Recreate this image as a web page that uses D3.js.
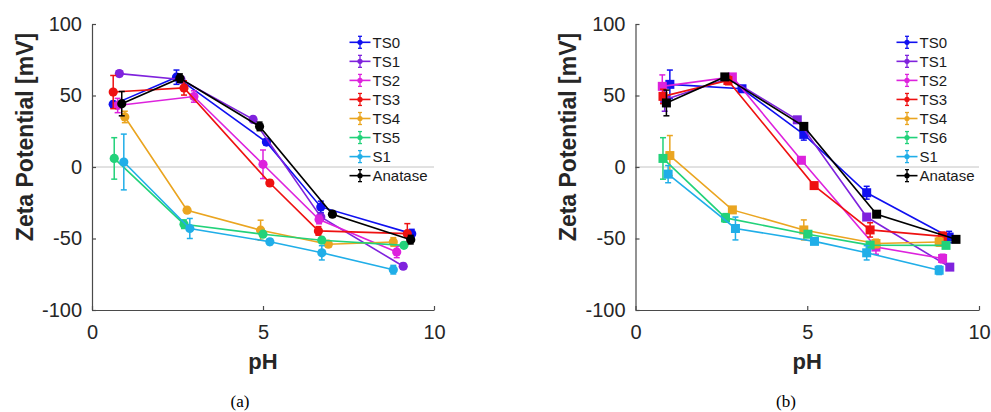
<!DOCTYPE html>
<html><head><meta charset="utf-8">
<script src="https://cdn.jsdelivr.net/npm/d3@7"></script>
<style>body{margin:0;background:#fff}svg{display:block}</style>
</head><body>
<svg id="chart" width="991" height="412"></svg>
<script>
// ---------- data ----------
const namesA = ["TS0","TS1","TS2","TS3","TS4","TS5","S1","Anatase"];
const namesB = ["TS0","TS1","TS2","TS3","TS4","TS6","S1","Anatase"];
const xTicks = [0, 5, 10];
const yTicks = [-100, -50, 0, 50, 100];
const captions = ["(a)", "(b)"];

// Panel (a)
const pH_A = [
  [0.62, 2.47, 5.10, 6.69, 9.35],
  [0.80, 2.60, 4.71, 6.69, 9.10],
  [0.75, 2.98, 5.00, 6.64, 8.91],
  [0.62, 2.69, 5.20, 6.62, 9.22],
  [0.96, 2.78, 4.93, 6.91, 8.81],
  [0.65, 2.69, 5.00, 6.72, 9.12],
  [0.93, 2.86, 5.20, 6.72, 8.81],
  [0.87, 2.57, 4.90, 7.03, 9.32]
];
const zeta_A = [
  [43.8, 62.8, 17.4, -27.9, -46.6],
  [65.3, 61.2, 33.3, -34.9, -69.4],
  [43.0, 49.3, 1.9, -36.7, -59.4],
  [52.4, 55.3, -11.2, -44.7, -46.6],
  [35.0, -30.2, -44.2, -54.0, -52.4],
  [6.0, -40.0, -47.0, -51.2, -54.8],
  [3.5, -43.0, -52.3, -60.0, -71.8],
  [44.3, 62.1, 28.4, -33.0, -50.8]
];
const err_A = [
  [2, 5, 2, 4, 3],
  [2, 2, 2, 2, 2],
  [5, 4, 10, 3, 4],
  [11.6, 5, 2, 3, 7],
  [4, 2, 7, 2, 3],
  [14.5, 3, 2, 2, 2],
  [19.5, 7, 2, 5, 3],
  [8.5, 3, 3, 2, 3]
];

// Panel (b)
const pH_B = [
  [1.00, 3.10, 4.90, 6.73, 9.13],
  [0.85, 2.72, 4.71, 6.73, 9.15],
  [0.78, 2.82, 4.83, 7.00, 8.94],
  [0.80, 2.69, 5.20, 6.83, 8.94],
  [1.00, 2.82, 4.90, 7.00, 8.84],
  [0.80, 2.62, 5.02, 6.83, 9.04],
  [0.95, 2.91, 5.21, 6.73, 8.84],
  [0.90, 2.60, 4.90, 7.02, 9.33]
];
const zeta_B = [
  [57.8, 54.7, 22.8, -18.0, -49.0],
  [47.0, 62.0, 33.0, -35.0, -70.0],
  [56.4, 63.0, 4.7, -56.0, -64.0],
  [49.4, 60.5, -13.0, -44.0, -48.5],
  [8.0, -30.0, -44.0, -53.5, -52.4],
  [6.0, -35.6, -47.0, -54.6, -54.8],
  [-5.0, -43.0, -52.0, -60.0, -72.2],
  [44.8, 63.0, 28.4, -33.0, -50.6]
];
const err_B = [
  [10, 2, 4, 4.5, 4],
  [8, 2, 2, 2, 2],
  [8, 2, 2, 5, 3],
  [5, 3, 2, 5, 3],
  [14, 2, 7, 3, 3],
  [14.5, 3, 2, 2, 2],
  [6, 8, 2, 5, 3],
  [9, 2, 2, 2, 2]
];

// ---------- styles ----------
const colors = ["#1010f0", "#7f22dd", "#dd22dd", "#ee1111", "#eaa520", "#22d27a", "#20aee8", "#000000"];

const svg = d3.select("#chart");
const FONT = "'Liberation Sans', Arial, Helvetica, sans-serif";

function drawPanel(cfg) {
  const x = d3.scaleLinear().domain([0, 10]).range([cfg.x0, cfg.x1]);
  const y = d3.scaleLinear().domain([-100, 100]).range([310, 24]);
  const g = svg.append("g");

  // zero reference line
  g.append("line")
    .attr("x1", x(0)).attr("x2", x(10))
    .attr("y1", y(0)).attr("y2", y(0))
    .attr("stroke", "#c4c4c4").attr("stroke-width", 1);

  // axes
  const fmt = d => String(d);
  const ax = g.append("g").attr("transform", `translate(0,${y(-100)})`)
    .call(d3.axisBottom(x).tickValues(xTicks).tickSize(-4).tickSizeOuter(0).tickPadding(15).tickFormat(fmt));
  const ay = g.append("g").attr("transform", `translate(${x(0)},0)`)
    .call(d3.axisLeft(y).tickValues(yTicks).tickSize(-4).tickSizeOuter(0).tickPadding(10).tickFormat(fmt));
  [ax, ay].forEach(a => {
    a.selectAll("path, line").attr("stroke", "#4a4a4a").attr("stroke-width", 1.2);
    a.selectAll("text").attr("fill", "#262626").style("font-family", FONT).style("font-size", "20px");
  });

  // axis titles
  g.append("text")
    .attr("transform", `translate(${cfg.ylabX},137) rotate(-90)`)
    .attr("text-anchor", "middle").attr("dy", "0.35em")
    .style("font-family", FONT).style("font-size", "23px").style("font-weight", "bold")
    .attr("fill", "#262626").text("Zeta Potential [mV]");
  g.append("text")
    .attr("x", x(5)).attr("y", 369).attr("text-anchor", "middle")
    .style("font-family", FONT).style("font-size", "22px").style("font-weight", "bold")
    .attr("fill", "#262626").text("pH");

  // caption
  g.append("text")
    .attr("x", cfg.capX).attr("y", 407).attr("text-anchor", "middle")
    .style("font-family", "'Liberation Serif', 'Times New Roman', serif").style("font-size", "17px")
    .attr("fill", "#000").text(cfg.caption);

  // series
  cfg.names.forEach((name, i) => {
    const pts = cfg.pH[i].map((p, j) => ({ p, v: cfg.zeta[i][j], e: cfg.err[i][j] }));
    const s = g.append("g");
    s.append("path").datum(pts)
      .attr("d", d3.line().x(d => x(d.p)).y(d => y(d.v)))
      .attr("fill", "none").attr("stroke", colors[i]).attr("stroke-width", 1.6);
    pts.forEach(d => {
      const cx = x(d.p);
      s.append("line").attr("x1", cx).attr("x2", cx).attr("y1", y(d.v - d.e)).attr("y2", y(d.v + d.e))
        .attr("stroke", colors[i]).attr("stroke-width", 1.5);
      [d.v - d.e, d.v + d.e].forEach(v => {
        s.append("line").attr("x1", cx - 3).attr("x2", cx + 3).attr("y1", y(v)).attr("y2", y(v))
          .attr("stroke", colors[i]).attr("stroke-width", 1.5);
      });
    });
    if (cfg.marker === "circle") {
      s.selectAll("circle").data(pts).join("circle")
        .attr("cx", d => x(d.p)).attr("cy", d => y(d.v)).attr("r", 4.6)
        .attr("fill", colors[i]);
    } else {
      s.selectAll("rect").data(pts).join("rect")
        .attr("x", d => x(d.p) - 4.5).attr("y", d => y(d.v) - 4.5)
        .attr("width", 9).attr("height", 9).attr("fill", colors[i]);
    }

    // legend entry
    const ly = 42.3 + 19.05 * i;
    const lx = cfg.legX;
    const lg = g.append("g");
    lg.append("line").attr("x1", lx).attr("x2", lx + 21).attr("y1", ly).attr("y2", ly)
      .attr("stroke", colors[i]).attr("stroke-width", 1.6);
    lg.append("line").attr("x1", lx + 10.5).attr("x2", lx + 10.5).attr("y1", ly - 6).attr("y2", ly + 6)
      .attr("stroke", colors[i]).attr("stroke-width", 1.3);
    [ly - 6, ly + 6].forEach(yy => lg.append("line").attr("x1", lx + 8.5).attr("x2", lx + 12.5)
      .attr("y1", yy).attr("y2", yy).attr("stroke", colors[i]).attr("stroke-width", 1.3));
    lg.append("circle").attr("cx", lx + 10.5).attr("cy", ly).attr("r", 2.6).attr("fill", colors[i]);
    lg.append("text").attr("x", lx + 23).attr("y", ly).attr("dy", "0.35em")
      .style("font-family", FONT).style("font-size", "15px").attr("fill", "#1a1a1a").text(name);
  });
}

drawPanel({ x0: 92, x1: 434, ylabX: 25, capX: 240, caption: captions[0], legX: 349.5,
  names: namesA, pH: pH_A, zeta: zeta_A, err: err_A, marker: "circle" });
drawPanel({ x0: 635.5, x1: 979, ylabX: 568, capX: 786, caption: captions[1], legX: 896.5,
  names: namesB, pH: pH_B, zeta: zeta_B, err: err_B, marker: "square" });
</script>
</body></html>
